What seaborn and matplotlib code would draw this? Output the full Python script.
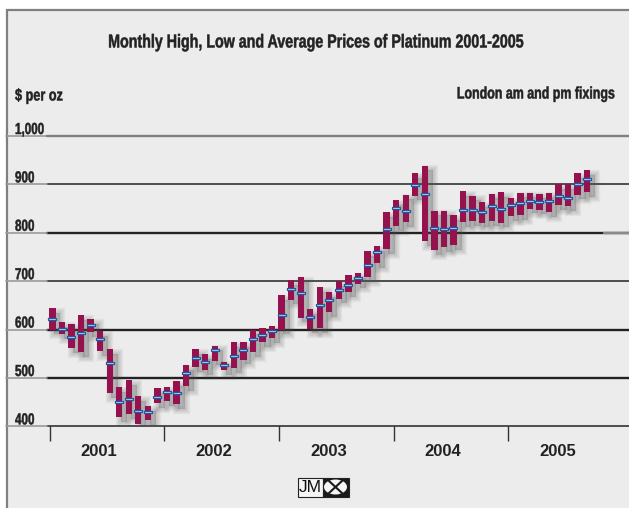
import numpy as np
import pandas as pd
import matplotlib
matplotlib.use("Agg")
import matplotlib.pyplot as plt
import matplotlib.patheffects as pe
from matplotlib.patches import Rectangle, Ellipse
from matplotlib.transforms import Affine2D
import seaborn as sns

high = [645, 616, 612, 630, 622, 597, 560, 481, 496, 463, 442, 479,
        481, 494, 527, 560, 550, 567, 534, 575, 575, 600, 604, 608,
        672, 703, 708, 643, 687, 677, 701, 712, 716, 763, 773, 843,
        868, 879, 924, 939, 846, 846, 837, 887, 877, 864, 881, 885,
        872, 883, 883, 881, 883, 901, 901, 924, 930]
low = [600, 591, 562, 554, 595, 556, 469, 419, 425, 405, 413, 448,
       452, 446, 483, 523, 517, 536, 517, 521, 538, 554, 575, 583,
       600, 662, 625, 602, 604, 637, 664, 677, 695, 708, 737, 767,
       814, 823, 877, 783, 765, 771, 775, 823, 825, 821, 825, 821,
       835, 837, 850, 848, 843, 858, 856, 879, 885]
average = [621, 602, 585, 594, 610, 580, 532, 451, 457, 431, 429, 461,
           471, 470, 511, 541, 534, 557, 527, 546, 557, 581, 588, 597,
           630, 683, 676, 626, 651, 662, 682, 692, 706, 733, 761, 808,
           852, 846, 899, 881, 809, 808, 809, 847, 848, 843, 855, 849,
           857, 862, 866, 863, 866, 877, 872, 901, 912]
years = ["2001", "2002", "2003", "2004", "2005"]
y_values = [1000, 900, 800, 700, 600, 500, 400]
y_labels = ["1,000", "900", "800", "700", "600", "500", "400"]

df = pd.DataFrame({"month": np.arange(len(high)), "high": high, "low": low, "average": average})
df["range"] = df["high"] - df["low"]

BG = "#ECECEC"
BAR = "#96124F"
DARK = "#222222"
FONT = "Liberation Sans"


class Squeeze(pe.AbstractPathEffect):
    # no condensed font installed, so narrow the text around one x pixel and fatten it a bit
    def __init__(self, x0, sx=0.74, lw=0.35):
        super().__init__()
        self.x0 = x0
        self.sx = sx
        self.lw = lw

    def draw_path(self, renderer, gc, tpath, affine, rgbFace=None):
        squeezed = affine + Affine2D().translate(-self.x0, 0).scale(self.sx, 1).translate(self.x0, 0)
        gc0 = renderer.new_gc()
        gc0.copy_properties(gc)
        gc0.set_linewidth(self.lw)
        gc0.set_foreground(rgbFace)
        renderer.draw_path(gc0, tpath, squeezed, rgbFace)
        gc0.restore()


sns.set_theme(style="white")
fig = plt.figure(figsize=(6.29, 5.08), dpi=100, facecolor="white")
W, H = 629, 508

# pixel layer for the panel, logo and headings
bg = fig.add_axes([0, 0, 1, 1], zorder=0)
bg.set_xlim(0, W)
bg.set_ylim(H, 0)
bg.axis("off")
bg.add_patch(Rectangle((6.5, 10), 640, 520, fc=BG, ec="#808080", lw=1.6))
bg.text(315.5, 43, "Monthly High, Low and Average Prices of Platinum 2001-2005", family=FONT,
        weight="bold", fontsize=13.5, color=DARK, ha="center", va="center",
        path_effects=[Squeeze(315.5, 0.76)])
bg.text(15, 96, "$ per oz", family=FONT, weight="bold", fontsize=12, color=DARK, va="center",
        path_effects=[Squeeze(15, 0.76)])
bg.text(614, 94, "London am and pm fixings", family=FONT, weight="bold", fontsize=12,
        color=DARK, ha="right", va="center", path_effects=[Squeeze(614, 0.745)])

# JM logo
bg.add_patch(Rectangle((297.5, 477.5), 25, 19, fc="#F4F4F4", ec=DARK, lw=0.8))
bg.add_patch(Rectangle((322.5, 477.5), 26, 19, fc="#1A1A1A", ec=DARK, lw=0.8))
bg.text(310, 487.5, "JM", family=FONT, fontsize=12.5, color="#111111", ha="center", va="center")
bg.add_patch(Ellipse((335.5, 487), 23, 15, fc="#F4F4F4", ec="none"))
bg.plot([329, 342], [481, 493], color="#1A1A1A", lw=1.5)
bg.plot([342, 329], [481, 493], color="#1A1A1A", lw=1.5)

# main chart, 47px from left, 400 at y=426.4 and 1000 at y=136
ax = fig.add_axes([47 / W, (H - 426.4) / H, (W - 47) / W, 290.4 / H], zorder=1)
ax.patch.set_alpha(0)

# soft shadow first, real bars on top
sns.barplot(data=df, x="month", y="range", bottom=df["low"], native_scale=True, color="#505050",
            saturation=1, width=0.66, errorbar=None, linewidth=0, ax=ax, zorder=2)
shadow = [pe.Stroke(linewidth=lw, foreground="#505050", alpha=0.055, offset=(3.5, -3.5))
          for lw in (7.5, 6, 4.5, 3, 1.5)]
for p in ax.patches:
    p.set_path_effects(shadow)
sns.barplot(data=df, x="month", y="range", bottom=df["low"], native_scale=True, color=BAR,
            saturation=1, width=0.66, errorbar=None, linewidth=0, ax=ax, zorder=3)

# average markers
tick_rect = [(-4, -1.5), (4, -1.5), (4, 1.5), (-4, 1.5), (-4, -1.5)]
sns.scatterplot(data=df, x="month", y="average", marker=tick_rect, s=33, color="#CFE0F2",
                edgecolor="#1E5BA6", linewidth=0.9, ax=ax, zorder=4, legend=False)

left = -0.565
right = (W - 52.4) / 9.55
ax.set_xlim(left, right)
ax.set_ylim(400, 1000)
ax.set_xlabel("")
ax.set_ylabel("")
sns.despine(ax=ax, left=True, bottom=True, top=True, right=True)

# gridlines
for v in y_values:
    thick = v in (800, 600, 500)
    ax.axhline(v, color=DARK, lw=1.7 if thick else 1.1, zorder=1, clip_on=False)
    ax.annotate(y_labels[y_values.index(v)], xy=(0, v), xycoords=ax.get_yaxis_transform(),
                xytext=(-32, -1), textcoords="offset pixels", family=FONT, weight="bold",
                fontsize=11.5, color=DARK, ha="left", va="bottom", annotation_clip=False,
                path_effects=[Squeeze(15, 0.73)])
    ax.plot([-0.565 - 41 / 9.55, left], [v, v], color="#9A9A9A", lw=1.2, clip_on=False, zorder=1)
ax.axhline(1000, color="#808080", lw=1.7, zorder=1, clip_on=False)
ax.plot([(604 - 52.4) / 9.55, right], [800, 800], color="#8A8A8A", lw=1.7, zorder=1.5)

# year ticks and labels
year_ticks = [12 * k - 0.28 for k in range(len(years))]
ax.set_xticks(year_ticks, labels=[""] * len(years))
ax.tick_params(axis="x", which="major", length=11, width=1.0, color="#333333", bottom=True)
ax.set_xticks([t + 5.17 for t in year_ticks], labels=years, minor=True)
ax.tick_params(axis="x", which="minor", length=0, pad=13, labelsize=12, labelcolor=DARK)
for lab in ax.get_xticklabels(minor=True):
    lab.set_family(FONT)
    lab.set_weight("bold")
ax.set_yticks([])

fig.savefig("out.png", dpi=100, facecolor="white")
